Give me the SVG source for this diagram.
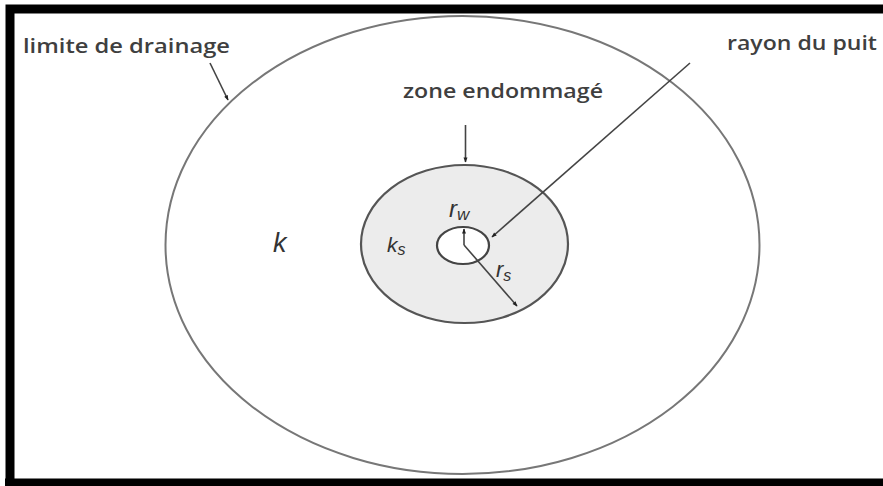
<svg xmlns="http://www.w3.org/2000/svg" width="883" height="486" viewBox="0 0 883 486">
<defs>
<style>
.lbl{font-family:"Open Sans","Liberation Sans",sans-serif;fill:#3f3f3f;font-size:20px;font-weight:600}
.sym{font-family:"Liberation Sans",Arial,sans-serif;font-style:italic;fill:#333}
.conn{stroke:#444;stroke-width:1.6;fill:none;marker-end:url(#ah)}
</style>
<marker id="ah" viewBox="0 0 10 10" refX="9" refY="5" markerWidth="5" markerHeight="5" orient="auto" markerUnits="userSpaceOnUse" overflow="visible">
<path d="M0,1 L10,5 L0,9 z" fill="#222"/>
</marker>
</defs>
<rect width="883" height="486" fill="#fff"/>
<g id="frame">
<path d="M10,486 V9 H883" fill="none" stroke="#000" stroke-width="9"/>
<path d="M5,482.5 H883" stroke="#000" stroke-width="8"/>
</g>
<g id="drainage-boundary">
<ellipse cx="462.5" cy="245" rx="297" ry="229" fill="none" stroke="#777" stroke-width="2"/>
</g>
<g id="damaged-zone">
<ellipse cx="464.5" cy="244" rx="103.5" ry="79" fill="#ececec" stroke="#555" stroke-width="2.2"/>
</g>
<g id="well">
<ellipse cx="463" cy="245.5" rx="26" ry="18.5" fill="#fff" stroke="#444" stroke-width="2.2"/>
</g>
<g id="connectors">
<line class="conn" x1="210" y1="63" x2="228" y2="100"/>
<line class="conn" x1="465.5" y1="125" x2="465.5" y2="162"/>
<line class="conn" x1="690" y1="63" x2="492" y2="237"/>
<line class="conn" x1="464" y1="245" x2="464" y2="229"/>
<line class="conn" x1="464" y1="245" x2="517" y2="306"/>
</g>
<g id="labels">
<text class="lbl" x="23" y="53" textLength="207" lengthAdjust="spacingAndGlyphs">limite de drainage</text>
<text class="lbl" x="727" y="50" textLength="150" lengthAdjust="spacingAndGlyphs">rayon du puit</text>
<text class="lbl" x="403" y="98" textLength="200" lengthAdjust="spacingAndGlyphs">zone endommagé</text>
<text class="sym" x="273" y="252" font-size="27">k</text>
<text class="sym" x="387" y="252" font-size="21">k<tspan font-size="16" dy="3">s</tspan></text>
<text class="sym" x="449" y="217" font-size="24">r<tspan font-size="17" dy="3">w</tspan></text>
<text class="sym" x="496" y="277" font-size="22">r<tspan font-size="16" dy="4">s</tspan></text>
</g>
</svg>
